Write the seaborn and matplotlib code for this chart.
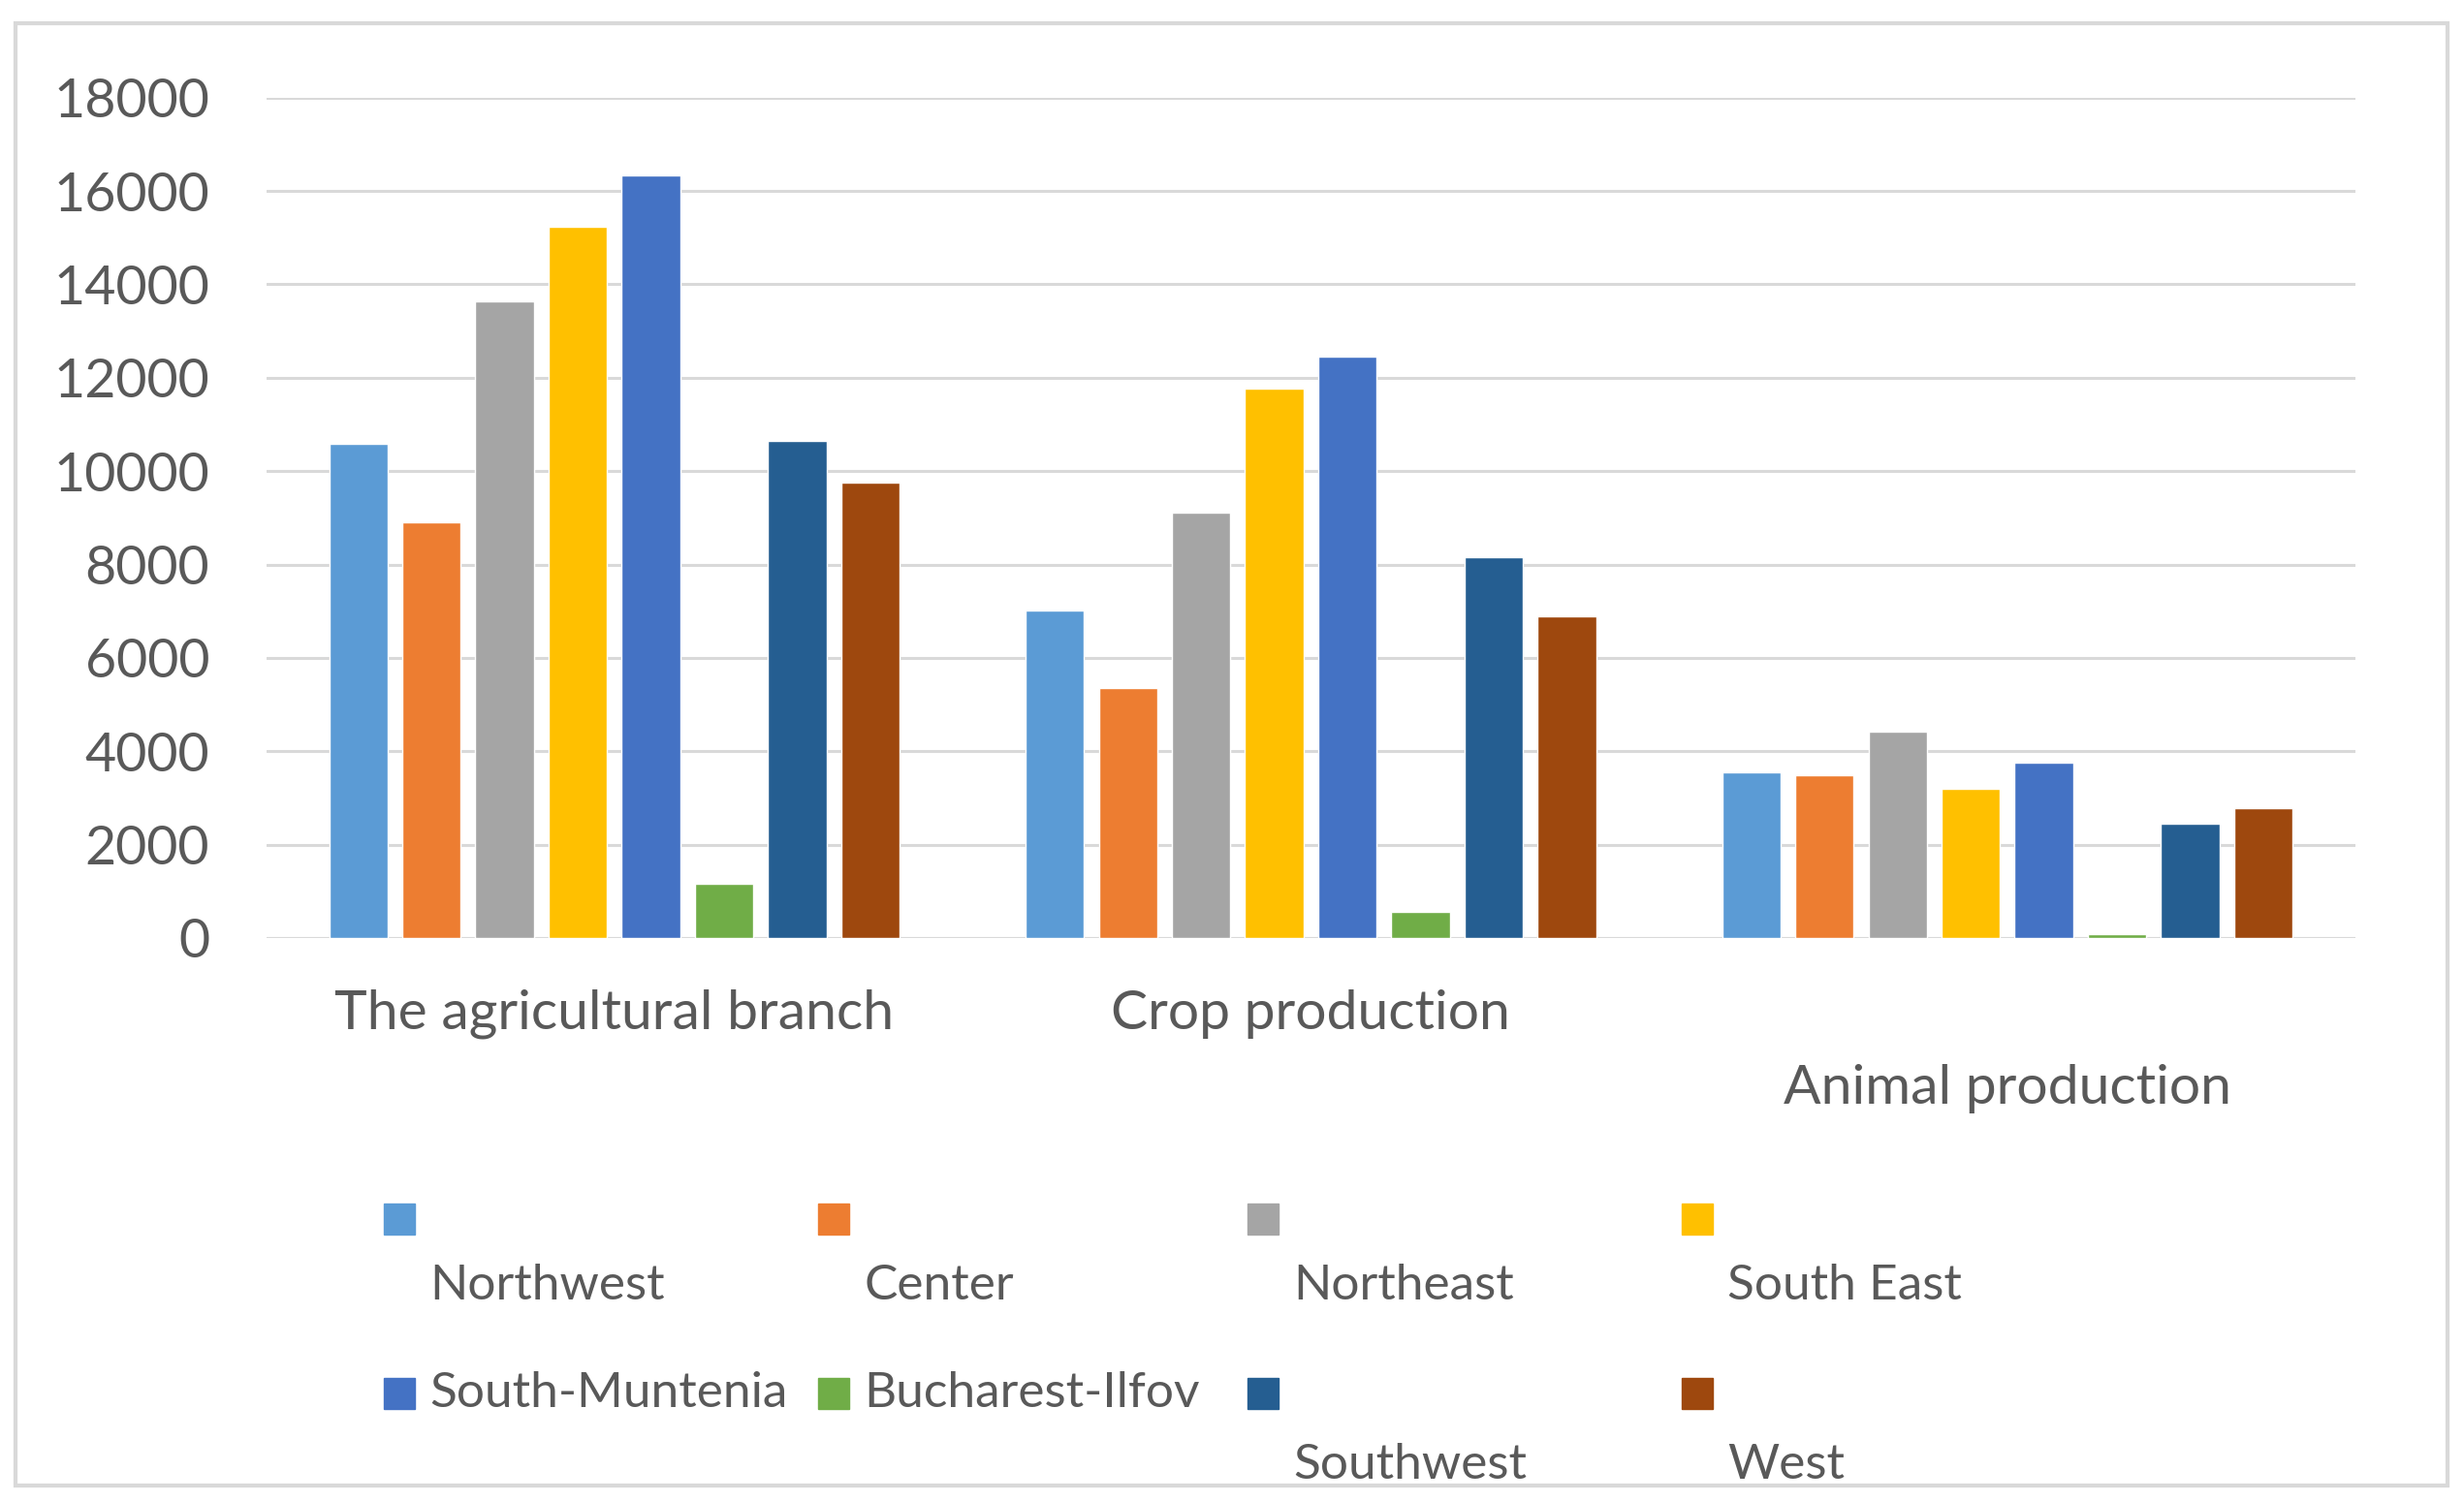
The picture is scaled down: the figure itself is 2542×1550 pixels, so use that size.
import numpy as np
import pandas as pd
from matplotlib import pyplot as plt
from matplotlib.patches import Rectangle
from matplotlib.transforms import ScaledTranslation
import seaborn as sns

branches = ['The agricultural branch', 'Crop production', 'Animal production']
regions = ['Northwest', 'Center', 'Northeast', 'South East',
           'South-Muntenia', 'Bucharest-Ilfov', 'Southwest', 'West']
colors = ['#5B9BD5', '#ED7D31', '#A5A5A5', '#FFC000',
          '#4472C4', '#70AD47', '#255E91', '#9E480E']

agricultural = [10580, 8910, 13630, 15240, 16340, 1170, 10650, 9760]
crop = [7020, 5360, 9110, 11770, 12460, 560, 8150, 6890]
animal = [3550, 3490, 4430, 3190, 3750, 90, 2440, 2780]

rows = []
for branch, vals in zip(branches, [agricultural, crop, animal]):
    for reg, v in zip(regions, vals):
        rows.append({'branch': branch, 'region': reg, 'value': v})
df = pd.DataFrame(rows)

sns.set_style('white')
plt.rcParams['font.family'] = ['Lato', 'DejaVu Sans']
txt_col = '#595959'
grid_col = '#D9D9D9'

fig = plt.figure(figsize=(25.42, 15.5), dpi=100)
ax = fig.add_axes([0.108, 0.3755, 0.848, 0.5595])

sns.barplot(data=df, x='branch', y='value', hue='region', order=branches,
            hue_order=regions, palette=colors, width=0.84, gap=0.2,
            legend=False, ax=ax, saturation=1)

ax.set_ylim(0, 18000)
ax.set_xlim(-0.5, 2.5)
ax.set_yticks(np.arange(0, 18001, 2000))
ax.yaxis.grid(True, color=grid_col, linewidth=2.2)
ax.set_axisbelow(True)
for s in ax.spines.values():
    s.set_visible(False)
ax.axhline(0, color=grid_col, linewidth=2.2, zorder=0)
ax.set_xlabel('')
ax.set_ylabel('')
ax.tick_params(axis='y', length=0, pad=42, labelsize=40, labelcolor=txt_col)
ax.tick_params(axis='x', length=0, pad=38, labelsize=41, labelcolor=txt_col)

# third category label is staggered lower, as in the original
lab = ax.get_xticklabels()[2]
lab.set_transform(lab.get_transform() + ScaledTranslation(0, -0.77, fig.dpi_scale_trans))

# outer frame
frame = Rectangle((16 / 2542, 1 - 1533 / 1550), 2509 / 2542, 1509 / 1550,
                  transform=fig.transFigure, fill=False,
                  edgecolor=grid_col, linewidth=3)
fig.add_artist(frame)

# legend, laid out the way the original wrapped it
col_x = [396, 844, 1287, 1735]
W, H = 2542, 1550
for i, (reg, c) in enumerate(zip(regions, colors)):
    r, k = divmod(i, 4)
    mx = col_x[k]
    my = 1258 if r == 0 else 1438
    fig.add_artist(Rectangle((mx / W, 1 - (my + 16) / H), 32 / W, 32 / H,
                             transform=fig.transFigure, color=c))
    wrapped = not (r == 1 and k < 2)
    ty = my if not wrapped else (1327 if r == 0 else 1512)
    t = fig.text((mx + 47) / W, 1 - ty / H, reg, fontsize=37, color=txt_col,
                 va='center', ha='left')
    t.set_clip_path(frame)

fig.savefig('out.png', dpi=100)
